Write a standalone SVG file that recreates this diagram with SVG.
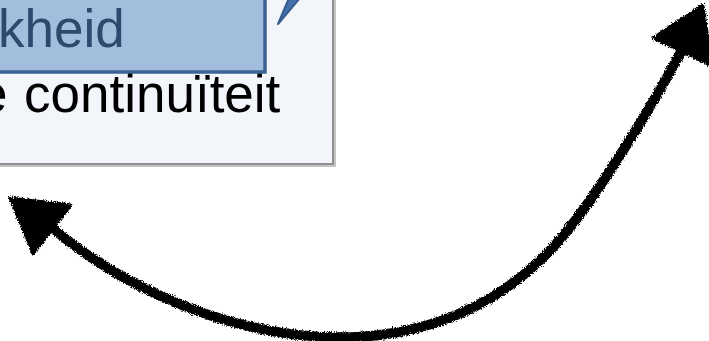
<svg xmlns="http://www.w3.org/2000/svg" width="709" height="341" viewBox="0 0 709 341">
  <defs>
    <style>
      .panel { fill: #f2f6fa; stroke: #8e8e8e; stroke-width: 2; }
      .shadow { fill: #c4c4c4; }
      .hl { fill: #a3bedc; stroke: #3d6394; stroke-width: 3.5; }
      .t { font-family: "Liberation Sans", Arial, sans-serif; font-size: 53px; }
      .hlt { fill: #2c4a6e; }
      .body { fill: #000; }
      .tail { fill: #4470aa; stroke: #375d8f; stroke-width: 2; stroke-linejoin: round; }
      .shaft { fill: none; stroke: #000; stroke-width: 10; stroke-linecap: round; }
      .head { fill: #000; stroke: #000; stroke-width: 3; stroke-linejoin: round; }
    </style>
    <filter id="rough" x="-5%" y="-5%" width="110%" height="110%">
      <feTurbulence type="fractalNoise" baseFrequency="0.9" numOctaves="2" seed="3" result="n"/>
      <feDisplacementMap in="SourceGraphic" in2="n" scale="5" xChannelSelector="R" yChannelSelector="G"/>
    </filter>
  </defs>
  <rect width="709" height="341" fill="#ffffff"/>
  <g id="panel">
    <rect class="shadow" x="-10" y="-10" width="346" height="177"/>
    <rect class="panel" x="-10" y="-10" width="343" height="174"/>
    <text class="t body" x="-22" y="112">e</text>
    <text class="t body" x="24" y="112">continuïteit</text>
  </g>
  <g id="highlight">
    <rect class="hl" x="-10" y="-10" width="275" height="82"/>
    <text class="t hlt" x="-2" y="47">kheid</text>
  </g>
  <g id="callout-tail">
    <polygon class="tail" points="289,-2 300,-2 278,24"/>
  </g>
  <g id="connectors" filter="url(#rough)">
    <path class="shaft" d="M 50 226 C 170 330, 410 405, 556 244 C 592 204, 650 110, 682 50"/>
    <polygon class="head" points="10,198 71,205 33,254"/>
    <polygon class="head" points="653,38 703,5 712,66"/>
  </g>
</svg>
